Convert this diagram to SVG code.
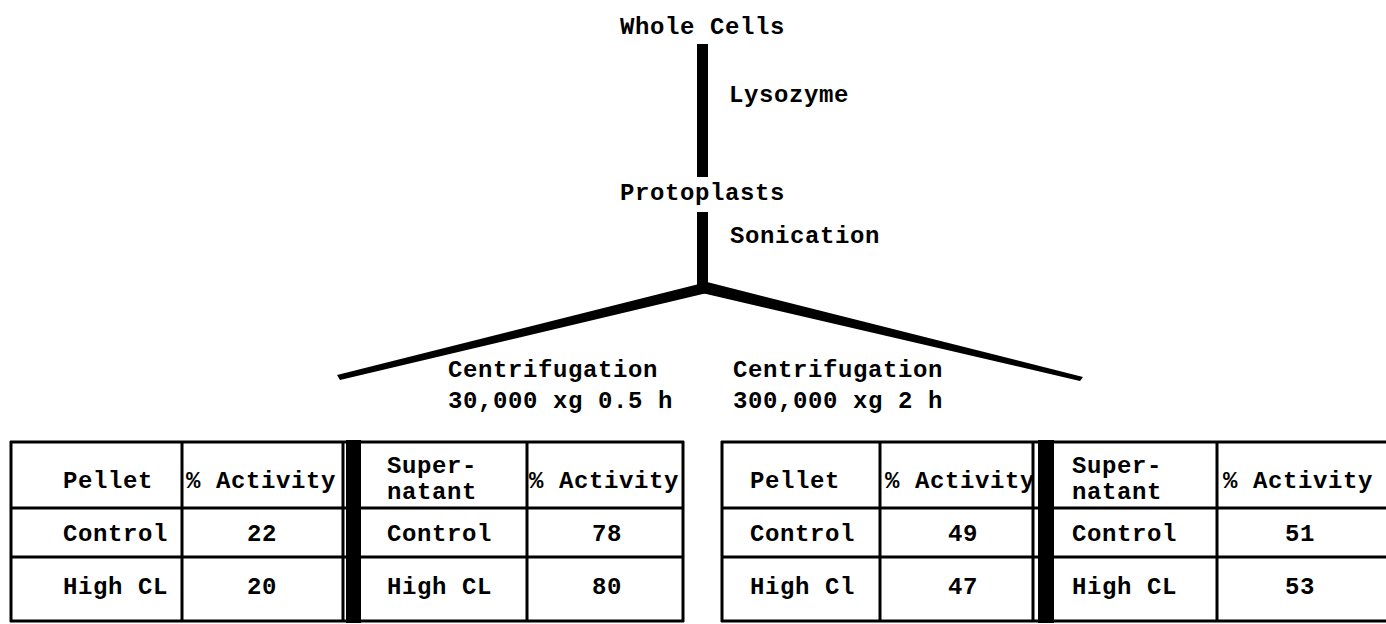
<svg xmlns="http://www.w3.org/2000/svg" width="1386" height="624" viewBox="0 0 1386 624">
  <style>
    .t { font-family: "Liberation Mono", "DejaVu Sans Mono", monospace; font-weight: bold; font-size: 24px; letter-spacing: 0.6px; fill: #000; }
    .n { text-anchor: middle; }
    .rule { stroke: #000; stroke-width: 3; fill: none; }
    .bar { fill: #000; }
  </style>
  <rect width="1386" height="624" fill="#fff"/>

  <!-- flow connectors -->
  <g id="connectors">
    <rect class="bar" x="697" y="44" width="11" height="133"/>
    <rect class="bar" x="697" y="212" width="11" height="75"/>
    <polygon class="bar" points="703,283 709,285 707,293 340,380 337,375"/>
    <polygon class="bar" points="703,283 707,282 1083,377 1080,381 702,293"/>
  </g>

  <!-- process steps -->
  <g id="whole-cells"><text class="t" x="620" y="34">Whole Cells</text></g>
  <g id="lysozyme"><text class="t" x="729" y="102">Lysozyme</text></g>
  <g id="protoplasts"><text class="t" x="620" y="200">Protoplasts</text></g>
  <g id="sonication"><text class="t" x="730" y="243">Sonication</text></g>
  <g id="centrifugation-low">
    <text class="t" x="448" y="377">Centrifugation</text>
    <text class="t" x="448" y="408">30,000 xg 0.5 h</text>
  </g>
  <g id="centrifugation-high">
    <text class="t" x="733" y="377">Centrifugation</text>
    <text class="t" x="733" y="408">300,000 xg 2 h</text>
  </g>

  <!-- 30,000 xg fractions -->
  <g id="table-low">
    <path class="rule" d="M10,442 H684 M10,508 H684 M10,557 H684 M10,621 H684 M11,441 V622 M182,441 V622 M343,441 V622 M527,441 V622 M683,441 V622"/>
    <rect class="bar" x="346" y="440" width="15" height="183"/>
    <text class="t" x="63" y="488">Pellet</text>
    <text class="t" x="186" y="488">% Activity</text>
    <text class="t" x="63" y="541">Control</text>
    <text class="t n" x="262" y="541">22</text>
    <text class="t" x="63" y="594">High CL</text>
    <text class="t n" x="262" y="594">20</text>
    <text class="t" x="387" y="473">Super-</text>
    <text class="t" x="387" y="499">natant</text>
    <text class="t" x="529" y="488">% Activity</text>
    <text class="t" x="387" y="541">Control</text>
    <text class="t n" x="607" y="541">78</text>
    <text class="t" x="387" y="594">High CL</text>
    <text class="t n" x="607" y="594">80</text>
  </g>

  <!-- 300,000 xg fractions -->
  <g id="table-high">
    <path class="rule" d="M721,442 H1386 M721,508 H1386 M721,557 H1386 M721,621 H1386 M722,441 V622 M880,441 V622 M1033,441 V622 M1217,441 V622"/>
    <rect class="bar" x="1038" y="440" width="16" height="183"/>
    <text class="t" x="750" y="488">Pellet</text>
    <text class="t" x="885" y="488">% Activity</text>
    <text class="t" x="750" y="541">Control</text>
    <text class="t n" x="963" y="541">49</text>
    <text class="t" x="750" y="594">High Cl</text>
    <text class="t n" x="963" y="594">47</text>
    <text class="t" x="1072" y="473">Super-</text>
    <text class="t" x="1072" y="499">natant</text>
    <text class="t" x="1223" y="488">% Activity</text>
    <text class="t" x="1072" y="541">Control</text>
    <text class="t n" x="1300" y="541">51</text>
    <text class="t" x="1072" y="594">High CL</text>
    <text class="t n" x="1300" y="594">53</text>
  </g>
</svg>
